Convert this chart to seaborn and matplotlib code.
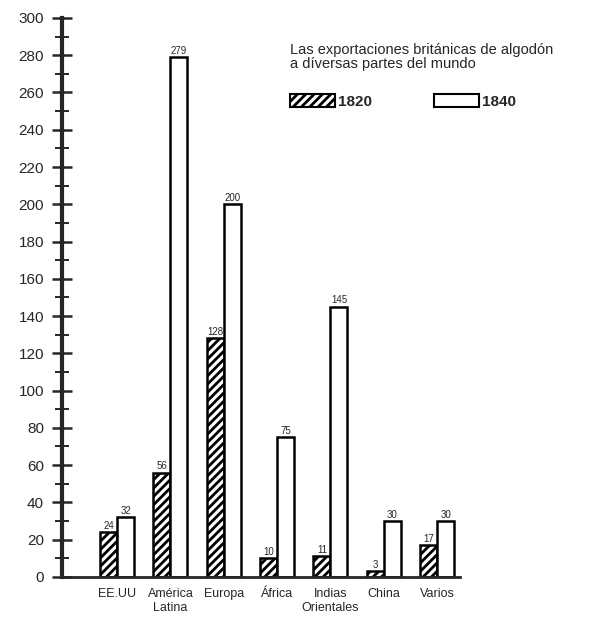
import pandas as pd
import matplotlib.pyplot as plt
import seaborn as sns
from matplotlib.patches import Patch

# Datos: exportaciones britanicas de algodon
regiones = ['EE.UU', 'América\nLatina', 'Europa', 'África', 'Indias\nOrientales', 'China', 'Varios']
valores_1820 = [24, 56, 128, 10, 11, 3, 17]
valores_1840 = [32, 279, 200, 75, 145, 30, 30]
anios = ['1820', '1840']

data = pd.DataFrame({
    'Region': regiones * 2,
    'Valor': valores_1820 + valores_1840,
    'Año': [anios[0]] * len(regiones) + [anios[1]] * len(regiones),
})

sns.set_style('white')
plt.rcParams['font.family'] = ['Liberation Sans', 'DejaVu Sans']
plt.rcParams['hatch.linewidth'] = 2.0

fig = plt.figure(figsize=(5.92, 6.19), dpi=100)
ax = fig.add_axes([0.105, 0.068, 0.672, 0.903])

sns.barplot(data=data, x='Region', y='Valor', hue='Año', order=regiones,
            hue_order=anios, palette=['white', 'white'], width=0.64,
            edgecolor='black', linewidth=1.8, legend=False, ax=ax)

# hatch the 1820 bars
for cont, hatch in zip(ax.containers, ['////', '']):
    for bar in cont:
        bar.set_hatch(hatch)
    ax.bar_label(cont, fontsize=7, padding=1,
                 family=['Liberation Sans Narrow', 'Liberation Sans'])

ax.set_xlim(-1.03, 6.43)
ax.set_ylim(0, 300)
ax.set_yticks(range(0, 301, 20))
ax.set_yticks(range(10, 300, 20), minor=True)
ax.tick_params(axis='y', which='major', direction='inout', length=14, width=1.8,
               labelsize=11, pad=6, left=True)
ax.tick_params(axis='y', which='minor', direction='inout', length=10, width=1.4, left=True)
ax.tick_params(axis='x', length=0, pad=8)
for lbl in ax.get_xticklabels():
    lbl.set_fontfamily(['Liberation Sans Narrow', 'Liberation Sans'])
    lbl.set_fontsize(9)
    lbl.set_verticalalignment('top')
ax.set_xlabel('')
ax.set_ylabel('')

sns.despine(ax=ax)
ax.spines['left'].set_linewidth(3)
ax.spines['bottom'].set_linewidth(2)

# title and legend
fig.text(0.49, 0.93, 'Las exportaciones británicas de algodón\na díversas partes del mundo',
         fontsize=10.5, va='top', ha='left', linespacing=0.95)
handles = [Patch(facecolor='white', edgecolor='black', hatch='////', linewidth=1.5),
           Patch(facecolor='white', edgecolor='black', linewidth=1.5)]
fig.legend(handles, anios, ncol=2, frameon=False, loc='upper left',
           bbox_to_anchor=(0.467, 0.871), handlelength=2.9, handleheight=1.0,
           handletextpad=0.2, columnspacing=4.1,
           prop={'weight': 'bold', 'size': 11})

fig.savefig('out.png', dpi=100)
